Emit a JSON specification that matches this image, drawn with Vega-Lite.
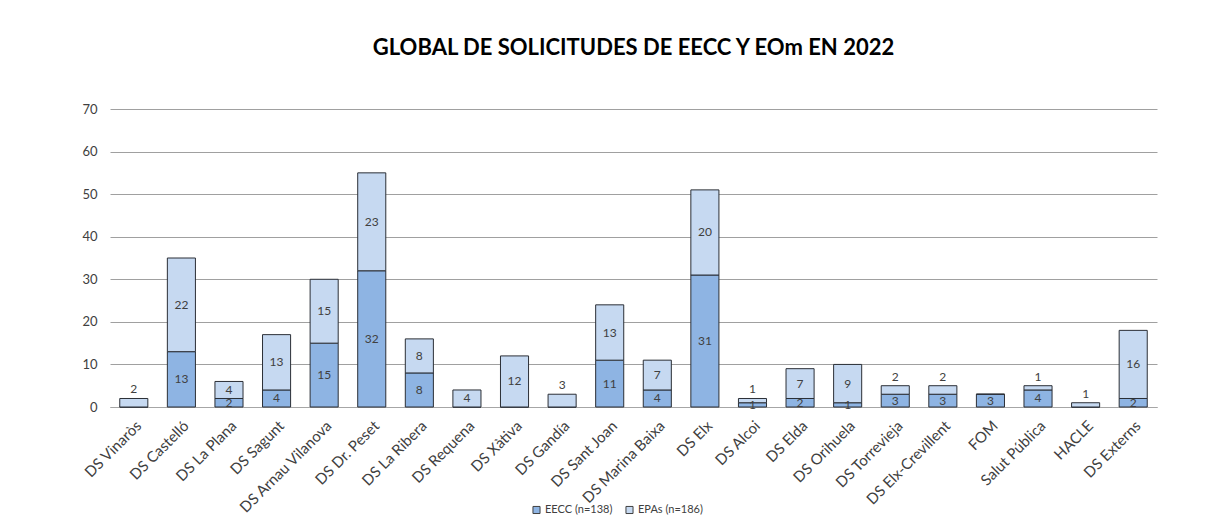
{
  "$schema": "https://vega.github.io/schema/vega-lite/v6.json",
  "width": 1047,
  "height": 298,
  "autosize": {"type": "none"},
  "padding": {"left": 110, "top": 109, "right": 56, "bottom": 114},
  "background": "white",
  "title": {
    "text": "GLOBAL DE SOLICITUDES DE EECC Y EOm EN 2022",
    "font": "Lato",
    "fontSize": 22,
    "fontWeight": "bold",
    "color": "#000000",
    "anchor": "middle",
    "offset": 43
  },
  "data": {
    "values": [
      {"district": "DS Vinaròs", "series": "EECC (n=138)", "count": 0},
      {"district": "DS Vinaròs", "series": "EPAs (n=186)", "count": 2},
      {"district": "DS Castelló", "series": "EECC (n=138)", "count": 13},
      {"district": "DS Castelló", "series": "EPAs (n=186)", "count": 22},
      {"district": "DS La Plana", "series": "EECC (n=138)", "count": 2},
      {"district": "DS La Plana", "series": "EPAs (n=186)", "count": 4},
      {"district": "DS Sagunt", "series": "EECC (n=138)", "count": 4},
      {"district": "DS Sagunt", "series": "EPAs (n=186)", "count": 13},
      {"district": "DS Arnau Vilanova", "series": "EECC (n=138)", "count": 15},
      {"district": "DS Arnau Vilanova", "series": "EPAs (n=186)", "count": 15},
      {"district": "DS Dr. Peset", "series": "EECC (n=138)", "count": 32},
      {"district": "DS Dr. Peset", "series": "EPAs (n=186)", "count": 23},
      {"district": "DS La Ribera", "series": "EECC (n=138)", "count": 8},
      {"district": "DS La Ribera", "series": "EPAs (n=186)", "count": 8},
      {"district": "DS Requena", "series": "EECC (n=138)", "count": 0},
      {"district": "DS Requena", "series": "EPAs (n=186)", "count": 4},
      {"district": "DS Xàtiva", "series": "EECC (n=138)", "count": 0},
      {"district": "DS Xàtiva", "series": "EPAs (n=186)", "count": 12},
      {"district": "DS Gandía", "series": "EECC (n=138)", "count": 0},
      {"district": "DS Gandía", "series": "EPAs (n=186)", "count": 3},
      {"district": "DS Sant Joan", "series": "EECC (n=138)", "count": 11},
      {"district": "DS Sant Joan", "series": "EPAs (n=186)", "count": 13},
      {"district": "DS Marina Baixa", "series": "EECC (n=138)", "count": 4},
      {"district": "DS Marina Baixa", "series": "EPAs (n=186)", "count": 7},
      {"district": "DS Elx", "series": "EECC (n=138)", "count": 31},
      {"district": "DS Elx", "series": "EPAs (n=186)", "count": 20},
      {"district": "DS Alcoi", "series": "EECC (n=138)", "count": 1},
      {"district": "DS Alcoi", "series": "EPAs (n=186)", "count": 1},
      {"district": "DS Elda", "series": "EECC (n=138)", "count": 2},
      {"district": "DS Elda", "series": "EPAs (n=186)", "count": 7},
      {"district": "DS Orihuela", "series": "EECC (n=138)", "count": 1},
      {"district": "DS Orihuela", "series": "EPAs (n=186)", "count": 9},
      {"district": "DS Torrevieja", "series": "EECC (n=138)", "count": 3},
      {"district": "DS Torrevieja", "series": "EPAs (n=186)", "count": 2},
      {"district": "DS Elx-Crevillent", "series": "EECC (n=138)", "count": 3},
      {"district": "DS Elx-Crevillent", "series": "EPAs (n=186)", "count": 2},
      {"district": "FOM", "series": "EECC (n=138)", "count": 3},
      {"district": "FOM", "series": "EPAs (n=186)", "count": 0},
      {"district": "Salut Pública", "series": "EECC (n=138)", "count": 4},
      {"district": "Salut Pública", "series": "EPAs (n=186)", "count": 1},
      {"district": "HACLE", "series": "EECC (n=138)", "count": 0},
      {"district": "HACLE", "series": "EPAs (n=186)", "count": 1},
      {"district": "DS Externs", "series": "EECC (n=138)", "count": 2},
      {"district": "DS Externs", "series": "EPAs (n=186)", "count": 16}
    ]
  },
  "encoding": {
    "x": {
      "field": "district",
      "type": "nominal",
      "sort": null,
      "title": null,
      "scale": {"paddingInner": 0.41, "paddingOuter": 0.205},
      "axis": {
        "labelAngle": -45,
        "labelAlign": "right",
        "labelBaseline": "top",
        "labelFont": "Lato",
        "labelFontSize": 15,
        "labelColor": "#404040",
        "labelPadding": 11,
        "labelOverlap": false,
        "domainColor": "#a6a6a6",
        "ticks": false,
        "grid": false
      }
    }
  },
  "layer": [
    {
      "mark": {"type": "bar", "stroke": "#2b2f36", "strokeWidth": 1},
      "encoding": {
        "y": {
          "field": "count",
          "type": "quantitative",
          "stack": "zero",
          "title": null,
          "scale": {"domain": [0, 70], "nice": false},
          "axis": {
            "values": [0, 10, 20, 30, 40, 50, 60, 70],
            "labelFont": "Lato",
            "labelFontSize": 13,
            "labelColor": "#404040",
            "labelPadding": 13,
            "domain": false,
            "ticks": false,
            "gridColor": "#a0a0a0",
            "gridWidth": 1
          }
        },
        "color": {
          "field": "series",
          "type": "nominal",
          "title": null,
          "scale": {
            "domain": ["EECC (n=138)", "EPAs (n=186)"],
            "range": ["#8eb4e3", "#c6d9f1"]
          },
          "legend": {
            "orient": "none",
            "direction": "horizontal",
            "legendX": 421,
            "legendY": 395,
            "symbolType": "square",
            "symbolSize": 50,
            "symbolStrokeColor": "#404040",
            "symbolStrokeWidth": 1,
            "labelFont": "Lato",
            "labelFontSize": 11,
            "labelColor": "#404040",
            "labelOffset": 3,
            "columnPadding": 10,
            "symbolOffset": 0
          }
        },
        "order": {"field": "series", "sort": "ascending"}
      }
    },
    {
      "transform": [
        {"stack": "count", "groupby": ["district"], "sort": [{"field": "series", "order": "ascending"}], "as": ["y0", "y1"]},
        {"filter": "datum.count > 0 && !(datum.series == 'EPAs (n=186)' && datum.count <= 3)"},
        {"fold": ["y0", "y1"], "as": ["edge", "pos"]},
        {"aggregate": [{"op": "mean", "field": "pos", "as": "mid"}], "groupby": ["district", "series", "count"]}
      ],
      "mark": {"type": "text", "font": "Lato", "fontSize": 12, "color": "#404040", "baseline": "middle"},
      "encoding": {
        "y": {"field": "mid", "type": "quantitative", "stack": null},
        "text": {"field": "count", "type": "quantitative"}
      }
    },
    {
      "transform": [
        {"stack": "count", "groupby": ["district"], "sort": [{"field": "series", "order": "ascending"}], "as": ["y0", "y1"]},
        {"filter": "datum.count > 0 && datum.series == 'EPAs (n=186)' && datum.count <= 3"}
      ],
      "mark": {"type": "text", "font": "Lato", "fontSize": 12, "color": "#404040", "baseline": "bottom", "dy": -2},
      "encoding": {
        "y": {"field": "y1", "type": "quantitative", "stack": null},
        "text": {"field": "count", "type": "quantitative"}
      }
    }
  ],
  "config": {
    "view": {"stroke": null}
  }
}
